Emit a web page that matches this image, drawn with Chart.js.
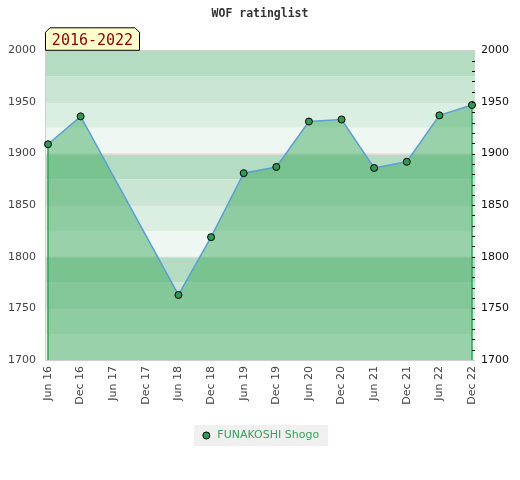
<!DOCTYPE html>
<html>
<head>
<meta charset="utf-8">
<script src="https://cdn.jsdelivr.net/npm/chart.js@4/dist/chart.umd.min.js"></script>
<style>
html,body{margin:0;padding:0;background:#fff;}
#wrap{width:520px;height:480px;position:relative;}
</style>
</head>
<body>
<div id="wrap"><canvas id="c" width="520" height="480"></canvas></div>
<script>
// ---- data ----
const chartTitle = "WOF ratinglist";
const periodLabel = "2016-2022";
const seriesName = "FUNAKOSHI Shogo";
const categories = ["Jun 16","Dec 16","Jun 17","Dec 17","Jun 18","Dec 18","Jun 19","Dec 19","Jun 20","Dec 20","Jun 21","Dec 21","Jun 22","Dec 22"];
const ratings = [1909, 1936, null, null, 1763, 1819, 1881, 1887, 1931, 1933, 1886, 1892, 1937, 1947];
const yMin = 1700, yMax = 2000, yStep = 50, yMinorStep = 10;

// ---- styles ----
const bandColors = ['#b3dcc2', '#c8e6d3', '#dbeee2', '#eef7f1'];
const FONT = 'DejaVu Sans';

const bgPlugin = {
  id: 'bgPlugin',
  beforeDatasetsDraw(chart) {
    const ctx = chart.ctx, a = chart.chartArea, y = chart.scales.y;
    const L = a.left - 3, R = a.right + 3;
    ctx.save();
    let i = 0;
    for (let v = yMax; v > yMin; v -= 25, i++) {
      const t = y.getPixelForValue(v), b = y.getPixelForValue(v - 25);
      ctx.fillStyle = bandColors[i % 4];
      ctx.fillRect(L, t, R - L, b - t);
    }
    ctx.strokeStyle = '#dcdcdc';
    ctx.lineWidth = 1;
    y.ticks.forEach(tk => {
      const p = Math.round(y.getPixelForValue(tk.value)) + 0.5;
      ctx.beginPath(); ctx.moveTo(L, p); ctx.lineTo(R, p); ctx.stroke();
    });
    ctx.strokeStyle = '#cfcfcf';
    ctx.beginPath();
    ctx.moveTo(L + 0.5, a.top + 0.5); ctx.lineTo(L + 0.5, a.bottom + 0.5); ctx.lineTo(R, a.bottom + 0.5);
    ctx.moveTo(L, a.top + 0.5); ctx.lineTo(R, a.top + 0.5);
    ctx.stroke();
    const meta = chart.getDatasetMeta(0);
    const pts = meta.data.filter((p, k) => ratings[k] !== null);
    const first = pts[0], last = pts[pts.length - 1];
    ctx.strokeStyle = '#2ca34f';
    ctx.lineWidth = 1.5;
    [first, last].forEach(p => {
      ctx.beginPath(); ctx.moveTo(p.x, p.y); ctx.lineTo(p.x, a.bottom); ctx.stroke();
    });
    ctx.restore();
  },
  afterDatasetsDraw(chart) {
    // right-axis tick marks (from the y2 scale's own ticks)
    const ctx = chart.ctx, a = chart.chartArea, s = chart.scales.y2;
    ctx.save();
    ctx.strokeStyle = '#000';
    ctx.lineWidth = 1;
    s.ticks.forEach(tk => {
      if (tk.value === yMin || tk.value === yMax) return;
      const p = Math.round(s.getPixelForValue(tk.value)) + 0.5;
      ctx.beginPath(); ctx.moveTo(a.right, p); ctx.lineTo(a.right + 3, p); ctx.stroke();
    });
    ctx.restore();
  },
  afterDraw(chart) {
    const ctx = chart.ctx, a = chart.chartArea;
    ctx.save();
    const L = a.left - 3, R = L + 95, T = a.top - 23, B = a.top, n = 5;
    ctx.beginPath();
    ctx.moveTo(L + 0.5, B);
    ctx.lineTo(L + 0.5, T + n);
    ctx.lineTo(L + n, T + 0.5);
    ctx.lineTo(R - n, T + 0.5);
    ctx.lineTo(R - 0.5, T + n);
    ctx.lineTo(R - 0.5, B);
    ctx.closePath();
    ctx.fillStyle = '#ffffcc';
    ctx.fill();
    ctx.strokeStyle = '#000';
    ctx.lineWidth = 1;
    ctx.stroke();
    ctx.fillStyle = '#8b0000';
    ctx.font = '15px "DejaVu Sans Mono"';
    ctx.textAlign = 'center';
    ctx.textBaseline = 'alphabetic';
    ctx.fillText(periodLabel, (L + R) / 2, B - 5);
    ctx.restore();
  },
  beforeDraw(chart) {
    const lg = chart.legend;
    if (!lg || !lg.legendHitBoxes || !lg.legendHitBoxes.length) return;
    const hb = lg.legendHitBoxes[0];
    const ctx = chart.ctx;
    ctx.save();
    ctx.fillStyle = '#f0f0f0';
    ctx.fillRect(hb.left - 7, hb.top - 5, hb.width + 16, hb.height + 10);
    ctx.restore();
  }
};

new Chart(document.getElementById('c'), {
  type: 'line',
  data: {
    labels: categories,
    datasets: [{
      label: seriesName,
      data: ratings,
      spanGaps: true,
      tension: 0,
      borderColor: '#5b9fd6',
      borderWidth: 1.5,
      fill: 'start',
      backgroundColor: 'rgba(49,163,84,0.45)',
      pointRadius: 3.5,
      pointHoverRadius: 3.5,
      pointBackgroundColor: '#2e9a55',
      pointBorderColor: '#000',
      pointBorderWidth: 1
    }]
  },
  options: {
    responsive: false,
    animation: false,
    devicePixelRatio: 1,
    layout: { padding: { left: 0, right: 0, top: 0, bottom: 29 } },
    plugins: {
      title: {
        display: true,
        text: chartTitle,
        color: '#333',
        font: { family: 'DejaVu Sans Mono', size: 11.5, weight: 'bold' },
        padding: { top: 7, bottom: 29.5 }
      },
      legend: {
        position: 'bottom',
        labels: {
          usePointStyle: true,
          pointStyle: 'circle',
          boxWidth: 11,
          boxHeight: 5,
          color: '#3a9f5a',
          font: { family: FONT, size: 11 },
          padding: 10,
          generateLabels(chart) {
            return [{
              text: seriesName,
              fillStyle: '#2e9a55',
              strokeStyle: '#000',
              lineWidth: 1,
              pointStyle: 'circle',
              fontColor: '#3a9f5a',
              datasetIndex: 0,
              hidden: false
            }];
          }
        }
      },
      tooltip: { enabled: false }
    },
    scales: {
      x: {
        offset: false,
        grid: { display: false, drawTicks: false },
        border: { display: false },
        ticks: {
          autoSkip: false,
          maxRotation: 90,
          minRotation: 90,
          padding: 6,
          color: '#444',
          font: { family: FONT, size: 11 }
        },
        afterFit(s) { s.height = 60; }
      },
      y: {
        position: 'left',
        min: yMin, max: yMax,
        grid: { display: false, drawTicks: false },
        border: { display: false },
        ticks: {
          stepSize: yStep,
          padding: 12,
          color: '#444',
          font: { family: FONT, size: 11 },
          callback(v) { return String(v); }
        },
        afterFit(s) { s.width = 48; }
      },
      y2: {
        position: 'right',
        min: yMin, max: yMax,
        grid: { display: false, drawTicks: false },
        border: { display: false },
        ticks: {
          stepSize: yMinorStep,
          autoSkip: false,
          padding: 9,
          color: '#111',
          font: { family: FONT, size: 11 },
          callback(v) { return v % yStep === 0 ? String(v) : ''; }
        },
        afterFit(s) { s.width = 48; }
      }
    }
  },
  plugins: [bgPlugin]
});
</script>
</body>
</html>
